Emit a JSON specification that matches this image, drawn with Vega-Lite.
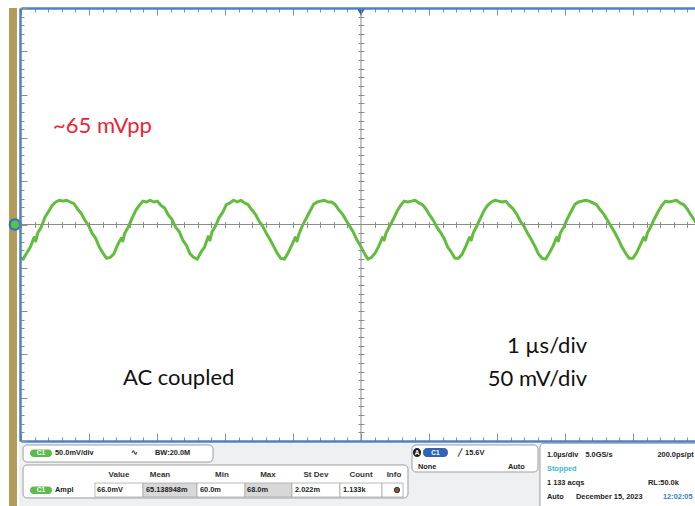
{
  "$schema": "https://vega.github.io/schema/vega-lite/v6.json",
  "width": 674,
  "height": 433,
  "padding": {"left": 21, "top": 8, "right": 0, "bottom": 65},
  "autosize": {"type": "none"},
  "background": "white",
  "config": {"view": {"stroke": null}, "axis": {"labels": false, "title": null, "grid": false, "zindex": 1}},
  "resolve": {"axis": {"x": "independent", "y": "independent"}},
  "datasets": {
    "trace": [
      {"t":-5.0225,"mV":-38},{"t":-4.9691,"mV":-40},{"t":-4.9157,"mV":-33},{"t":-4.8623,"mV":-26},{"t":-4.809,"mV":-15},{"t":-4.7823,"mV":-19},{"t":-4.7556,"mV":-10},{"t":-4.7022,"mV":-3},{"t":-4.6489,"mV":8},{"t":-4.5955,"mV":15},{"t":-4.5421,"mV":22},{"t":-4.4887,"mV":26},{"t":-4.4354,"mV":28},
      {"t":-4.382,"mV":27},{"t":-4.3286,"mV":28},{"t":-4.2753,"mV":26},{"t":-4.2219,"mV":24},{"t":-4.1685,"mV":18},{"t":-4.1151,"mV":13},{"t":-4.0618,"mV":5},{"t":-4.0084,"mV":-1},{"t":-3.955,"mV":-10},{"t":-3.9017,"mV":-16},{"t":-3.8483,"mV":-26},{"t":-3.7949,"mV":-33},{"t":-3.7416,"mV":-39},{"t":-3.6882,"mV":-38},{"t":-3.6348,"mV":-34},{"t":-3.5814,"mV":-24},{"t":-3.5281,"mV":-16},{"t":-3.5014,"mV":-19},{"t":-3.4747,"mV":-10},{"t":-3.4213,"mV":-3},{"t":-3.368,"mV":7},{"t":-3.3146,"mV":16},{"t":-3.2612,"mV":22},{"t":-3.2078,"mV":27},{"t":-3.1545,"mV":26},
      {"t":-3.1011,"mV":28},{"t":-3.0477,"mV":26},{"t":-2.9944,"mV":27},{"t":-2.941,"mV":22},{"t":-2.8876,"mV":19},{"t":-2.8342,"mV":11},{"t":-2.7809,"mV":6},{"t":-2.7275,"mV":-3},{"t":-2.6741,"mV":-8},{"t":-2.6208,"mV":-18},{"t":-2.5674,"mV":-24},{"t":-2.514,"mV":-34},{"t":-2.4607,"mV":-38},{"t":-2.4073,"mV":-40},{"t":-2.3539,"mV":-32},{"t":-2.3005,"mV":-26},{"t":-2.2472,"mV":-14},{"t":-2.2205,"mV":-18},{"t":-2.1938,"mV":-9},{"t":-2.1404,"mV":-2},{"t":-2.0871,"mV":8},{"t":-2.0337,"mV":14},{"t":-1.9803,"mV":23},{"t":-1.9269,"mV":25},{"t":-1.8736,"mV":28},
      {"t":-1.8202,"mV":26},{"t":-1.7668,"mV":28},{"t":-1.7135,"mV":25},{"t":-1.6601,"mV":23},{"t":-1.6067,"mV":17},{"t":-1.5533,"mV":12},{"t":-1.5,"mV":4},{"t":-1.4466,"mV":-2},{"t":-1.3932,"mV":-10},{"t":-1.3399,"mV":-17},{"t":-1.2865,"mV":-25},{"t":-1.2331,"mV":-33},{"t":-1.1798,"mV":-39},{"t":-1.1264,"mV":-40},{"t":-1.073,"mV":-33},{"t":-1.0196,"mV":-24},{"t":-0.9663,"mV":-15},{"t":-0.9396,"mV":-19},{"t":-0.9129,"mV":-11},{"t":-0.8595,"mV":-1},{"t":-0.8062,"mV":7},{"t":-0.7528,"mV":15},{"t":-0.6994,"mV":23},{"t":-0.646,"mV":26},{"t":-0.5927,"mV":27},
      {"t":-0.5393,"mV":28},{"t":-0.4859,"mV":26},{"t":-0.4326,"mV":26},{"t":-0.3792,"mV":23},{"t":-0.3258,"mV":17},{"t":-0.2724,"mV":12},{"t":-0.2191,"mV":5},{"t":-0.1657,"mV":-2},{"t":-0.1123,"mV":-9},{"t":-0.059,"mV":-18},{"t":-0.0056,"mV":-25},{"t":0.0478,"mV":-33},{"t":0.1011,"mV":-40},{"t":0.1545,"mV":-38},{"t":0.2079,"mV":-33},{"t":0.2613,"mV":-25},{"t":0.3146,"mV":-15},{"t":0.3413,"mV":-18},{"t":0.368,"mV":-10},{"t":0.4214,"mV":-2},{"t":0.4747,"mV":6},{"t":0.5281,"mV":15},{"t":0.5815,"mV":22},{"t":0.6349,"mV":27},{"t":0.6882,"mV":26},
      {"t":0.7416,"mV":27},{"t":0.795,"mV":28},{"t":0.8483,"mV":25},{"t":0.9017,"mV":23},{"t":0.9551,"mV":18},{"t":1.0085,"mV":11},{"t":1.0618,"mV":5},{"t":1.1152,"mV":-3},{"t":1.1686,"mV":-9},{"t":1.2219,"mV":-16},{"t":1.2753,"mV":-26},{"t":1.3287,"mV":-32},{"t":1.382,"mV":-39},{"t":1.4354,"mV":-39},{"t":1.4888,"mV":-34},{"t":1.5422,"mV":-25},{"t":1.5955,"mV":-15},{"t":1.6222,"mV":-18},{"t":1.6489,"mV":-10},{"t":1.7023,"mV":-2},{"t":1.7556,"mV":7},{"t":1.809,"mV":16},{"t":1.8624,"mV":22},{"t":1.9158,"mV":26},{"t":1.9691,"mV":28},
      {"t":2.0225,"mV":27},{"t":2.0759,"mV":26},{"t":2.1292,"mV":27},{"t":2.1826,"mV":22},{"t":2.236,"mV":18},{"t":2.2894,"mV":12},{"t":2.3427,"mV":4},{"t":2.3961,"mV":-2},{"t":2.4495,"mV":-10},{"t":2.5028,"mV":-17},{"t":2.5562,"mV":-25},{"t":2.6096,"mV":-34},{"t":2.6629,"mV":-39},{"t":2.7163,"mV":-40},{"t":2.7697,"mV":-33},{"t":2.8231,"mV":-25},{"t":2.8764,"mV":-15},{"t":2.9031,"mV":-19},{"t":2.9298,"mV":-10},{"t":2.9832,"mV":-3},{"t":3.0365,"mV":7},{"t":3.0899,"mV":15},{"t":3.1433,"mV":23},{"t":3.1967,"mV":26},{"t":3.25,"mV":27},
      {"t":3.3034,"mV":28},{"t":3.3568,"mV":27},{"t":3.4101,"mV":25},{"t":3.4635,"mV":23},{"t":3.5169,"mV":17},{"t":3.5703,"mV":12},{"t":3.6236,"mV":5},{"t":3.677,"mV":-2},{"t":3.7304,"mV":-9},{"t":3.7837,"mV":-17},{"t":3.8371,"mV":-26},{"t":3.8905,"mV":-33},{"t":3.9438,"mV":-39},{"t":3.9972,"mV":-39},{"t":4.0506,"mV":-33},{"t":4.104,"mV":-24},{"t":4.1573,"mV":-15},{"t":4.184,"mV":-18},{"t":4.2107,"mV":-10},{"t":4.2641,"mV":-2},{"t":4.3174,"mV":7},{"t":4.3708,"mV":15},{"t":4.4242,"mV":22},{"t":4.4776,"mV":27},{"t":4.5309,"mV":26},
      {"t":4.5843,"mV":27},{"t":4.6377,"mV":28},{"t":4.691,"mV":25},{"t":4.7444,"mV":23},{"t":4.7978,"mV":18},{"t":4.8512,"mV":11},{"t":4.9045,"mV":5},{"t":4.9579,"mV":-2}
    ],
    "panels": [
      {"kind":"gold","t1":-5.176,"t2":-5.059,"v1":250,"v2":-326},
      {"kind":"bg","t1":-5.03,"t2":4.95,"v1":-252.2,"v2":-326},
      {"kind":"box","t1":-4.97,"t2":-2.176,"v1":-254.6,"v2":-274.3},
      {"kind":"box","t1":-4.97,"t2":0.691,"v1":-277.7,"v2":-315.8},
      {"kind":"box","t1":0.75,"t2":2.603,"v1":-254.6,"v2":-285.8},
      {"kind":"box","t1":2.632,"t2":5.2,"v1":-252.6,"v2":-330},
      {"kind":"cell","t1":-3.912,"t2":-3.206,"v1":-298.5,"v2":-314.7},
      {"kind":"cellgray","t1":-3.206,"t2":-2.412,"v1":-298.5,"v2":-314.7},
      {"kind":"cell","t1":-2.412,"t2":-1.706,"v1":-298.5,"v2":-314.7},
      {"kind":"cellgray","t1":-1.706,"t2":-1.015,"v1":-298.5,"v2":-314.7},
      {"kind":"cell","t1":-1.015,"t2":-0.309,"v1":-298.5,"v2":-314.7},
      {"kind":"cell","t1":-0.309,"t2":0.309,"v1":-298.5,"v2":-314.7},
      {"kind":"cell","t1":0.309,"t2":0.618,"v1":-298.5,"v2":-314.7},
      {"kind":"pillgreen","t1":-4.868,"t2":-4.544,"v1":-259.8,"v2":-268.5},
      {"kind":"pillgreen","t1":-4.868,"t2":-4.544,"v1":-302.5,"v2":-311.2},
      {"kind":"black","t1":0.765,"t2":0.882,"v1":-258.1,"v2":-268.5},
      {"kind":"pillblue","t1":0.912,"t2":1.279,"v1":-258.1,"v2":-268.5}
    ],
    "notes": [
      {"text":"~65 mVpp","t":-4.529,"v":105.7,"kind":"red"},
      {"text":"AC coupled","t":-3.5,"v":-185.3,"kind":"note"},
      {"text":"1 µs/div","t":3.324,"v":-148.4,"kind":"note"},
      {"text":"50 mV/div","t":3.324,"v":-186.5,"kind":"note"}
    ],
    "readout": [
      {"text":"C1","t":-4.706,"v":-264.4,"kind":"pill"},
      {"text":"50.0mV/div","t":-4.5,"v":-264.4,"kind":"l"},
      {"text":"∿","t":-3.324,"v":-264.4,"kind":"c"},
      {"text":"BW:20.0M","t":-3.029,"v":-264.4,"kind":"l"},
      {"text":"Value","t":-3.559,"v":-289.3,"kind":"c"},
      {"text":"Mean","t":-2.956,"v":-289.3,"kind":"c"},
      {"text":"Min","t":-2.044,"v":-289.3,"kind":"c"},
      {"text":"Max","t":-1.368,"v":-289.3,"kind":"c"},
      {"text":"St Dev","t":-0.662,"v":-289.3,"kind":"c"},
      {"text":"Count","t":0,"v":-289.3,"kind":"c"},
      {"text":"Info","t":0.485,"v":-289.3,"kind":"c"},
      {"text":"C1","t":-4.706,"v":-306.6,"kind":"pill"},
      {"text":"Ampl","t":-4.5,"v":-306.6,"kind":"l"},
      {"text":"66.0mV","t":-3.882,"v":-306.6,"kind":"l"},
      {"text":"65.138948m","t":-3.162,"v":-306.6,"kind":"l"},
      {"text":"60.0m","t":-2.368,"v":-306.6,"kind":"l"},
      {"text":"68.0m","t":-1.676,"v":-306.6,"kind":"l"},
      {"text":"2.022m","t":-0.971,"v":-306.6,"kind":"l"},
      {"text":"1.133k","t":-0.265,"v":-306.6,"kind":"l"},
      {"text":"A","t":0.824,"v":-263.3,"kind":"pill"},
      {"text":"C1","t":1.096,"v":-263.3,"kind":"pill"},
      {"text":"╱","t":1.43,"v":-263.3,"kind":"l"},
      {"text":"15.6V","t":1.53,"v":-263.3,"kind":"l"},
      {"text":"None","t":0.838,"v":-280,"kind":"l"},
      {"text":"Auto","t":2.162,"v":-280,"kind":"l"},
      {"text":"1.0µs/div","t":2.735,"v":-266.2,"kind":"l"},
      {"text":"5.0GS/s","t":3.3,"v":-266.2,"kind":"l"},
      {"text":"200.0ps/pt","t":4.36,"v":-266.2,"kind":"l"},
      {"text":"Stopped","t":2.735,"v":-282.3,"kind":"cyan"},
      {"text":"1 133 acqs","t":2.735,"v":-298.5,"kind":"l"},
      {"text":"RL:50.0k","t":4.221,"v":-298.5,"kind":"l"},
      {"text":"Auto","t":2.735,"v":-314.7,"kind":"l"},
      {"text":"December 15, 2023","t":3.162,"v":-314.7,"kind":"l"},
      {"text":"12:02:05","t":4.441,"v":-314.7,"kind":"blue"}
    ]
  },
  "layer": [
    {
      "data": {"name": "panels"},
      "transform": [{"filter": "datum.kind == 'gold' || datum.kind == 'bg'"}],
      "mark": {"type": "rect", "clip": false},
      "encoding": {
        "x": {"field": "t1", "type": "quantitative", "scale": {"domain": [-5, 4.9118], "nice": false, "zero": false},
          "axis": {"orient": "top", "values": [-5,-4.8,-4.6,-4.4,-4.2,-4,-3.8,-3.6,-3.4,-3.2,-3,-2.8,-2.6,-2.4,-2.2,-2,-1.8,-1.6,-1.4,-1.2,-1,-0.8,-0.6,-0.4,-0.2,0,0.2,0.4,0.6,0.8,1,1.2,1.4,1.6,1.8,2,2.2,2.4,2.6,2.8,3,3.2,3.4,3.6,3.8,4,4.2,4.4,4.6,4.8],
            "labels": false, "title": null, "domainColor": "#4c82c3", "domainWidth": 2.5, "tickColor": "#8e8e8e", "tickWidth": 1,
            "tickSize": {"condition": {"test": "abs(datum.value - round(datum.value)) < 0.01", "value": -7}, "value": -4}, "zindex": 1}},
        "x2": {"field": "t2"},
        "y": {"field": "v1", "type": "quantitative", "scale": {"domain": [-250, 250], "nice": false, "zero": false},
          "axis": {"orient": "left", "offset": 1, "values": [-250,-240,-230,-220,-210,-200,-190,-180,-170,-160,-150,-140,-130,-120,-110,-100,-90,-80,-70,-60,-50,-40,-30,-20,-10,0,10,20,30,40,50,60,70,80,90,100,110,120,130,140,150,160,170,180,190,200,210,220,230,240,250],
            "labels": false, "title": null, "domainColor": "#4c82c3", "domainWidth": 2.5, "tickColor": "#8e8e8e", "tickWidth": 1,
            "tickSize": {"condition": {"test": "abs(datum.value/50 - round(datum.value/50)) < 0.01", "value": -7}, "value": -4}, "zindex": 1}},
        "y2": {"field": "v2"},
        "fill": {"field": "kind", "type": "nominal", "legend": null,
          "scale": {"domain": ["gold","bg","box","cell","cellgray","pillgreen","pillblue","black"], "range": ["#b39b5a","#eef0f1","#ffffff","#ffffff","#d8d8d8","#5cbb4a","#3263b8","#1a1a1a"]}}
      }
    },
    {
      "data": {"name": "panels"},
      "transform": [{"filter": "datum.kind == 'box'"}],
      "mark": {"type": "rect", "clip": false, "cornerRadius": 4, "stroke": "#9c9c9c", "strokeWidth": 1},
      "encoding": {
        "x": {"field": "t1", "type": "quantitative", "scale": {"domain": [-5, 4.9118], "nice": false, "zero": false}, "axis": null},
        "x2": {"field": "t2"},
        "y": {"field": "v1", "type": "quantitative", "scale": {"domain": [-250, 250], "nice": false, "zero": false}, "axis": null},
        "y2": {"field": "v2"},
        "fill": {"field": "kind", "type": "nominal", "legend": null,
          "scale": {"domain": ["gold","bg","box","cell","cellgray","pillgreen","pillblue","black"], "range": ["#b39b5a","#eef0f1","#ffffff","#ffffff","#d8d8d8","#5cbb4a","#3263b8","#1a1a1a"]}}
      }
    },
    {
      "data": {"name": "panels"},
      "transform": [{"filter": "datum.kind == 'cell' || datum.kind == 'cellgray'"}],
      "mark": {"type": "rect", "clip": false, "stroke": "#a8a8a8", "strokeWidth": 0.8},
      "encoding": {
        "x": {"field": "t1", "type": "quantitative", "scale": {"domain": [-5, 4.9118], "nice": false, "zero": false}, "axis": null},
        "x2": {"field": "t2"},
        "y": {"field": "v1", "type": "quantitative", "scale": {"domain": [-250, 250], "nice": false, "zero": false}, "axis": null},
        "y2": {"field": "v2"},
        "fill": {"field": "kind", "type": "nominal", "legend": null,
          "scale": {"domain": ["gold","bg","box","cell","cellgray","pillgreen","pillblue","black"], "range": ["#b39b5a","#eef0f1","#ffffff","#ffffff","#d8d8d8","#5cbb4a","#3263b8","#1a1a1a"]}}
      }
    },
    {
      "data": {"name": "panels"},
      "transform": [{"filter": "datum.kind == 'pillgreen' || datum.kind == 'pillblue' || datum.kind == 'black'"}],
      "mark": {"type": "rect", "clip": false, "cornerRadius": 4},
      "encoding": {
        "x": {"field": "t1", "type": "quantitative", "scale": {"domain": [-5, 4.9118], "nice": false, "zero": false}, "axis": null},
        "x2": {"field": "t2"},
        "y": {"field": "v1", "type": "quantitative", "scale": {"domain": [-250, 250], "nice": false, "zero": false}, "axis": null},
        "y2": {"field": "v2"},
        "fill": {"field": "kind", "type": "nominal", "legend": null,
          "scale": {"domain": ["gold","bg","box","cell","cellgray","pillgreen","pillblue","black"], "range": ["#b39b5a","#eef0f1","#ffffff","#ffffff","#d8d8d8","#5cbb4a","#3263b8","#1a1a1a"]}}
      }
    },
    {
      "data": {"values": [{}]},
      "mark": {"type": "rule", "color": "#8c8c8c", "strokeWidth": 1},
      "encoding": {"y": {"datum": 0, "type": "quantitative", "scale": {"domain": [-250, 250], "nice": false, "zero": false}, "axis": null}}
    },
    {
      "data": {"values": [{}]},
      "mark": {"type": "rule", "color": "#8c8c8c", "strokeWidth": 1},
      "encoding": {"x": {"datum": 0, "type": "quantitative", "scale": {"domain": [-5, 4.9118], "nice": false, "zero": false}, "axis": null}}
    },
    {
      "data": {"name": "trace"},
      "mark": {"type": "line", "color": "#62bd3e", "strokeWidth": 3, "clip": true, "strokeJoin": "round"},
      "encoding": {
        "x": {"field": "t", "type": "quantitative", "scale": {"domain": [-5, 4.9118], "nice": false, "zero": false},
          "axis": {"orient": "bottom", "values": [-5,-4.8,-4.6,-4.4,-4.2,-4,-3.8,-3.6,-3.4,-3.2,-3,-2.8,-2.6,-2.4,-2.2,-2,-1.8,-1.6,-1.4,-1.2,-1,-0.8,-0.6,-0.4,-0.2,0,0.2,0.4,0.6,0.8,1,1.2,1.4,1.6,1.8,2,2.2,2.4,2.6,2.8,3,3.2,3.4,3.6,3.8,4,4.2,4.4,4.6,4.8],
            "labels": false, "title": null, "domainColor": "#4c82c3", "domainWidth": 2.5, "tickColor": "#8e8e8e", "tickWidth": 1,
            "tickSize": {"condition": {"test": "abs(datum.value - round(datum.value)) < 0.01", "value": -8}, "value": -4}, "zindex": 1}},
        "y": {"field": "mV", "type": "quantitative", "scale": {"domain": [-250, 250], "nice": false, "zero": false},
          "axis": {"orient": "left", "offset": -337, "domain": false, "values": [-240,-230,-220,-210,-200,-190,-180,-170,-160,-150,-140,-130,-120,-110,-100,-90,-80,-70,-60,-50,-40,-30,-20,-10,10,20,30,40,50,60,70,80,90,100,110,120,130,140,150,160,170,180,190,200,210,220,230,240],
            "labels": false, "title": null, "tickColor": "#8c8c8c", "tickWidth": 1, "tickSize": -6, "zindex": 1}}
      }
    },
    {
      "data": {"name": "notes"},
      "transform": [{"filter": "datum.t < 0"}],
      "mark": {"type": "text", "align": "left", "baseline": "alphabetic", "font": "Lato", "fontSize": 22, "clip": false},
      "encoding": {
        "x": {"field": "t", "type": "quantitative", "scale": {"domain": [-5, 4.9118], "nice": false, "zero": false},
          "axis": {"orient": "bottom", "offset": -219.5, "domain": false, "values": [-5,-4.8,-4.6,-4.4,-4.2,-4,-3.8,-3.6,-3.4,-3.2,-3,-2.8,-2.6,-2.4,-2.2,-2,-1.8,-1.6,-1.4,-1.2,-1,-0.8,-0.6,-0.4,-0.2,0.2,0.4,0.6,0.8,1,1.2,1.4,1.6,1.8,2,2.2,2.4,2.6,2.8,3,3.2,3.4,3.6,3.8,4,4.2,4.4,4.6,4.8],
            "labels": false, "title": null, "tickColor": "#8c8c8c", "tickWidth": 1, "tickSize": 6, "zindex": 1}},
        "y": {"field": "v", "type": "quantitative", "scale": {"domain": [-250, 250], "nice": false, "zero": false}, "axis": null},
        "text": {"field": "text"},
        "color": {"field": "kind", "type": "nominal", "legend": null,
          "scale": {"domain": ["red","note","l","c","pill","cyan","blue"], "range": ["#ec2433","#111111","#222222","#333333","#ffffff","#3fb4d8","#2f80d4"]}}
      }
    },
    {
      "data": {"name": "notes"},
      "transform": [{"filter": "datum.t > 0"}],
      "mark": {"type": "text", "align": "right", "baseline": "alphabetic", "font": "Lato", "fontSize": 22, "clip": false},
      "encoding": {
        "x": {"field": "t", "type": "quantitative", "scale": {"domain": [-5, 4.9118], "nice": false, "zero": false}, "axis": null},
        "y": {"field": "v", "type": "quantitative", "scale": {"domain": [-250, 250], "nice": false, "zero": false}, "axis": null},
        "text": {"field": "text"},
        "color": {"field": "kind", "type": "nominal", "legend": null,
          "scale": {"domain": ["red","note","l","c","pill","cyan","blue"], "range": ["#ec2433","#111111","#222222","#333333","#ffffff","#3fb4d8","#2f80d4"]}}
      }
    },
    {
      "data": {"name": "readout"},
      "transform": [{"filter": "datum.kind == 'l' || datum.kind == 'cyan' || datum.kind == 'blue'"}],
      "mark": {"type": "text", "align": "left", "baseline": "middle", "font": "Liberation Sans", "fontWeight": "bold", "fontSize": 7.4, "clip": false},
      "encoding": {
        "x": {"field": "t", "type": "quantitative", "scale": {"domain": [-5, 4.9118], "nice": false, "zero": false}, "axis": null},
        "y": {"field": "v", "type": "quantitative", "scale": {"domain": [-250, 250], "nice": false, "zero": false}, "axis": null},
        "text": {"field": "text"},
        "color": {"field": "kind", "type": "nominal", "legend": null,
          "scale": {"domain": ["red","note","l","c","pill","cyan","blue"], "range": ["#ec2433","#111111","#222222","#333333","#ffffff","#3fb4d8","#2f80d4"]}}
      }
    },
    {
      "data": {"name": "readout"},
      "transform": [{"filter": "datum.kind == 'c'"}],
      "mark": {"type": "text", "align": "center", "baseline": "middle", "font": "Liberation Sans", "fontWeight": "bold", "fontSize": 8, "clip": false},
      "encoding": {
        "x": {"field": "t", "type": "quantitative", "scale": {"domain": [-5, 4.9118], "nice": false, "zero": false}, "axis": null},
        "y": {"field": "v", "type": "quantitative", "scale": {"domain": [-250, 250], "nice": false, "zero": false}, "axis": null},
        "text": {"field": "text"},
        "color": {"field": "kind", "type": "nominal", "legend": null,
          "scale": {"domain": ["red","note","l","c","pill","cyan","blue"], "range": ["#ec2433","#111111","#222222","#333333","#ffffff","#3fb4d8","#2f80d4"]}}
      }
    },
    {
      "data": {"name": "readout"},
      "transform": [{"filter": "datum.kind == 'pill'"}],
      "mark": {"type": "text", "align": "center", "baseline": "middle", "font": "Liberation Sans", "fontWeight": "bold", "fontSize": 6.5, "clip": false},
      "encoding": {
        "x": {"field": "t", "type": "quantitative", "scale": {"domain": [-5, 4.9118], "nice": false, "zero": false}, "axis": null},
        "y": {"field": "v", "type": "quantitative", "scale": {"domain": [-250, 250], "nice": false, "zero": false}, "axis": null},
        "text": {"field": "text"},
        "color": {"field": "kind", "type": "nominal", "legend": null,
          "scale": {"domain": ["red","note","l","c","pill","cyan","blue"], "range": ["#ec2433","#111111","#222222","#333333","#ffffff","#3fb4d8","#2f80d4"]}}
      }
    },
    {
      "data": {"values": [{}]},
      "mark": {"type": "point", "shape": "circle", "filled": true, "fill": "#5fbf45", "stroke": "#2d6fc0", "strokeWidth": 2, "size": 110, "opacity": 1, "clip": false},
      "encoding": {
        "x": {"datum": -5.09, "type": "quantitative", "scale": {"domain": [-5, 4.9118], "nice": false, "zero": false}, "axis": null},
        "y": {"datum": 0, "type": "quantitative", "scale": {"domain": [-250, 250], "nice": false, "zero": false}, "axis": null}
      }
    },
    {
      "data": {"values": [{}]},
      "mark": {"type": "point", "shape": "triangle-down", "filled": true, "color": "#2d5fb5", "size": 70, "opacity": 1, "clip": false},
      "encoding": {
        "x": {"datum": 0, "type": "quantitative", "scale": {"domain": [-5, 4.9118], "nice": false, "zero": false}, "axis": null},
        "y": {"datum": 245.4, "type": "quantitative", "scale": {"domain": [-250, 250], "nice": false, "zero": false}, "axis": null}
      }
    },
    {
      "data": {"values": [{}]},
      "mark": {"type": "point", "shape": "circle", "filled": true, "fill": "#8a5a2c", "stroke": "#333333", "strokeWidth": 1, "size": 28, "opacity": 1, "clip": false},
      "encoding": {
        "x": {"datum": 0.529, "type": "quantitative", "scale": {"domain": [-5, 4.9118], "nice": false, "zero": false}, "axis": null},
        "y": {"datum": -306.6, "type": "quantitative", "scale": {"domain": [-250, 250], "nice": false, "zero": false}, "axis": null}
      }
    }
  ]
}
